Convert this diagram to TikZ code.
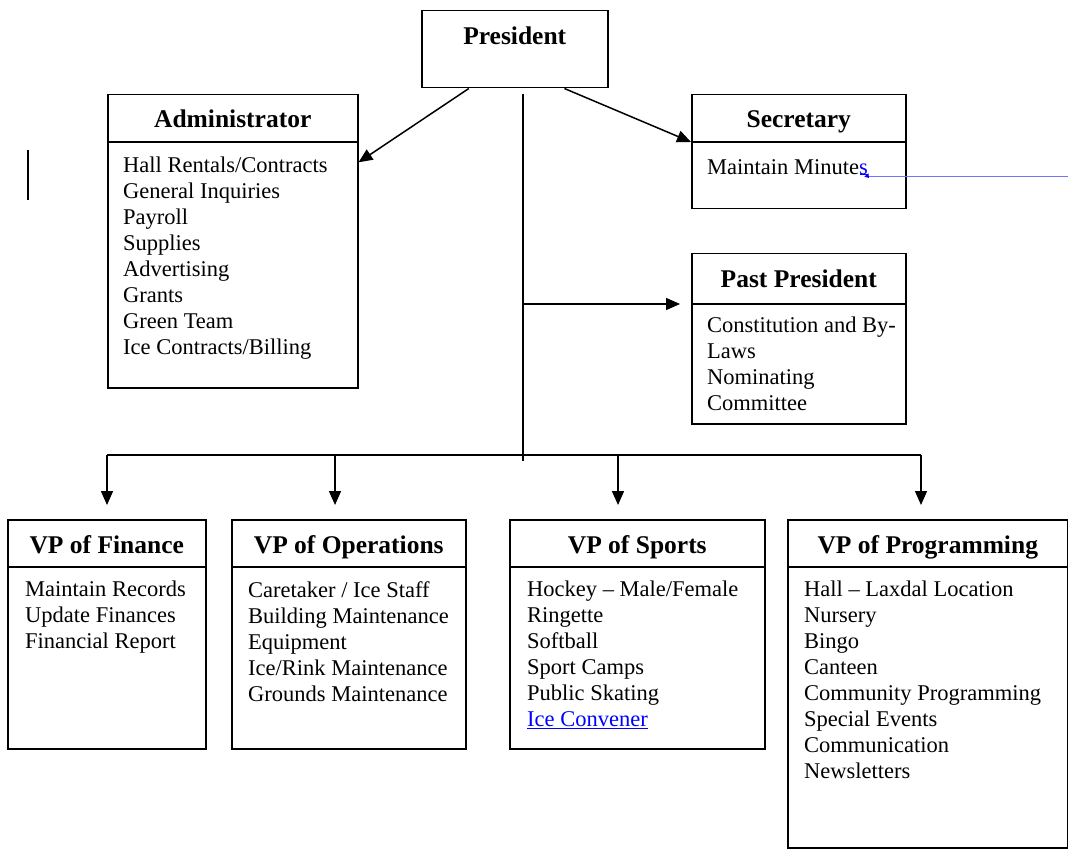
\documentclass[tikz,border=0pt]{standalone}
\usepackage{fontspec}
\setmainfont{Liberation Serif}
\usetikzlibrary{arrows.meta,calc}

\tikzset{
  box/.style={draw, line width=1.5pt, anchor=north west, inner sep=0pt},
  head/.style={font=\fontsize{25.5}{29}\selectfont\bfseries, anchor=base, inner sep=0pt},
  items/.style={font=\fontsize{22.5}{26}\selectfont, align=left, anchor=north west,
    inner sep=0pt, execute at begin node=\strut},
  link/.style={line width=1.5pt, -{Triangle[length=14pt,width=12pt]}},
  rule/.style={line width=1.5pt},
}

\begin{document}
\begin{tikzpicture}[x=1pt,y=-1pt]

    % Page frame
    \useasboundingbox (0,0) rectangle (1068,850);

    % Boxes of the chart
    \node[box, minimum width=186pt, minimum height=77pt] (pres) at (421,10) {};     % President
    \node[box, minimum width=250pt, minimum height=293pt] (admin) at (107,94) {};   % Administrator
    \node[box, minimum width=214pt, minimum height=114pt] (sec) at (691,94) {};     % Secretary
    \node[box, minimum width=214pt, minimum height=170pt] (past) at (691,253) {};   % Past President
    \node[box, minimum width=198pt, minimum height=229pt] (fin) at (7,519) {};      % VP of Finance
    \node[box, minimum width=234pt, minimum height=229pt] (ops) at (231,519) {};    % VP of Operations
    \node[box, minimum width=255pt, minimum height=229pt] (sports) at (509,519) {}; % VP of Sports
    \node[box, minimum width=280pt, minimum height=328pt] (prog) at (787,519) {};   % VP of Programming

    % Header lines
    \draw[rule] ($(admin.north west)+(0,48)$) -- ($(admin.north east)+(0,48)$);
    \draw[rule] ($(sec.north west)+(0,48)$) -- ($(sec.north east)+(0,48)$);
    \draw[rule] ($(past.north west)+(0,51)$) -- ($(past.north east)+(0,51)$);
    \draw[rule] ($(fin.north west)+(0,48)$) -- ($(fin.north east)+(0,48)$);
    \draw[rule] ($(ops.north west)+(0,48)$) -- ($(ops.north east)+(0,48)$);
    \draw[rule] ($(sports.north west)+(0,48)$) -- ($(sports.north east)+(0,48)$);
    \draw[rule] ($(prog.north west)+(0,48)$) -- ($(prog.north east)+(0,48)$);

    % Titles
    \node[head] (prest) at ($(pres.north)+(0,34.5)$) {President};
    \node[head] (admint) at ($(admin.north)+(0,34)$) {Administrator};
    \node[head] (sect) at ($(sec.north)+(0,34)$) {Secretary};
    \node[head] (pastt) at ($(past.north)+(0,34.5)$) {Past President};
    \node[head] (fint) at ($(fin.north)+(0,34)$) {VP of Finance};
    \node[head] (opst) at ($(ops.north)+(0,34)$) {VP of Operations};
    \node[head] (sportst) at ($(sports.north)+(0,34)$) {VP of Sports};
    \node[head] (progt) at ($(prog.north)+(0,34)$) {VP of Programming};

    % Duties
    \node[items] (admini) at ($(admin.north west)+(16,63)$)
      {Hall Rentals/Contracts\\General Inquiries\\Payroll\\Supplies\\Advertising\\Grants\\Green Team\\Ice Contracts/Billing};
    \node[items] (seci) at ($(sec.north west)+(16,62)$)
      {Maintain Minute\textcolor{blue}{s}};
    \node[items] (pasti) at ($(past.north west)+(16,64)$)
      {Constitution and By-\\Laws\\Nominating\\Committee};
    \node[items] (fini) at ($(fin.north west)+(18,62)$)
      {Maintain Records\\Update Finances\\Financial Report};
    \node[items] (opsi) at ($(ops.north west)+(17,62)$)
      {Caretaker / Ice Staff\\Building Maintenance\\Equipment\\Ice/Rink Maintenance\\Grounds Maintenance};
    \node[items] (sportsi) at ($(sports.north west)+(18,62)$)
      {Hockey – Male/Female\\Ringette\\Softball\\Sport Camps\\Public Skating\\\textcolor{blue}{\underline{Ice Convener}}};
    \node[items] (progi) at ($(prog.north west)+(17,62)$)
      {Hall – Laxdal Location\\Nursery\\Bingo\\Canteen\\Community Programming\\Special Events\\Communication\\Newsletters};

    % Trunk and bus points
    \coordinate (trunktop) at (523,94);
    \coordinate (trunkbot) at (523,461);
    \coordinate (busfin) at (107,455);
    \coordinate (busops) at (335,455);
    \coordinate (bussports) at (618,455);
    \coordinate (busprog) at (921,455);
    \coordinate (pastin) at ($(past.north west)+(-11,51)$);

    % Arrows from the President
    \draw[link] ($(pres.south west)!0.255!(pres.south east)$) -- ($(admin.north east)!0.232!(admin.south east)$);
    \draw[link] ($(pres.south west)!0.765!(pres.south east)$) -- ($(sec.north west)+(0,48)$);

    % Trunk down the middle
    \draw[rule] (trunktop) -- (trunkbot);
    \draw[link] (trunktop |- pastin) -- (pastin);
    \draw[rule] (busfin) -- (busprog);

    % Arrows down to the vice presidents
    \draw[link, shorten >=14pt] (busfin) -- (busfin |- fin.north);
    \draw[link, shorten >=14pt] (busops) -- (busops |- ops.north);
    \draw[link, shorten >=14pt] (bussports) -- (bussports |- sports.north);
    \draw[link, shorten >=14pt] (busprog) -- (busprog |- prog.north);

    % Stray marks
    \draw[line width=2pt] (28,150) -- (28,200);
    \draw[blue, line width=1pt] (860,174.5) -- (867,174.5);
    \draw[blue, line width=1pt, -{Triangle[length=4pt,width=5pt]}] (866,174.5) -- (869,178);
    \draw[blue!55, line width=1pt] (869,177) -- (1068,177);

\end{tikzpicture}
\end{document}
